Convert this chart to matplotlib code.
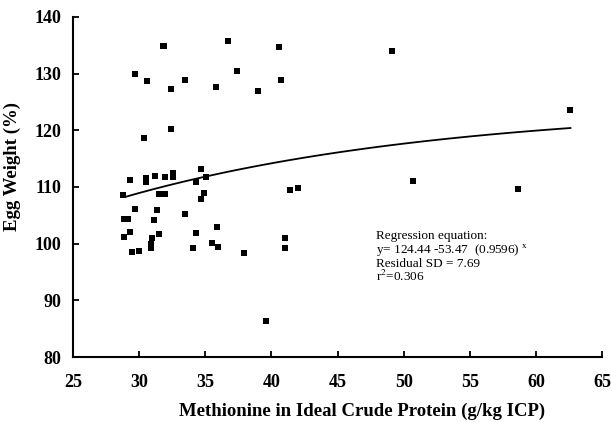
import numpy as np
import matplotlib
matplotlib.use("Agg")
import matplotlib.pyplot as plt

matplotlib.rcParams.update({'font.family': 'Liberation Serif', 'mathtext.fontset': 'stix'})

# methionine (g/kg ICP) vs egg weight (%)
methionine = [31.8, 36.7, 29.7, 30.6, 32.4, 33.5, 35.8, 37.4, 39.0, 31.9,
              30.4, 32.4, 40.6, 40.75, 49.1, 50.7, 41.4, 42.0, 58.6, 62.6,
              29.3, 30.5, 30.5, 31.2, 32.0, 32.6, 32.6, 34.7, 34.3, 35.1,
              28.8, 31.5, 32.0, 34.9, 34.7, 29.7, 31.35, 28.9, 29.2, 31.1,
              33.5, 29.3, 34.3, 35.9, 28.9, 31.0, 31.5, 30.9, 30.9, 29.5,
              30.0, 34.1, 35.5, 36.0, 37.9, 41.0, 41.05, 39.6]
egg_weight = [134.9, 135.8, 129.9, 128.7, 127.3, 128.9, 127.6, 130.4, 127.0, 134.9,
              118.6, 120.2, 134.7, 128.8, 133.9, 111.1, 109.4, 109.8, 109.6, 123.5,
              111.2, 111.5, 110.8, 112.0, 111.7, 112.5, 111.8, 113.2, 110.8, 111.7,
              108.6, 108.8, 108.8, 108.9, 107.9, 106.1, 106.0, 104.4, 104.4, 104.2,
              105.2, 102.1, 101.9, 102.9, 101.2, 101.0, 101.7, 99.9, 99.3, 98.6,
              98.7, 99.3, 100.2, 99.4, 98.3, 101.0, 99.3, 86.4]

# fitted curve y = a - b * r^x
a, b, r = 124.44, 53.47, 0.9596
xfit = np.linspace(29, 62.6, 100)
yfit = a - b * r ** xfit

fig = plt.figure(figsize=(6.12, 4.22), dpi=100)
ax = fig.add_axes([0.119, 0.154, 0.865, 0.806])

ax.scatter(methionine, egg_weight, marker='s', s=13, color='black', linewidths=0)
ax.plot(xfit, yfit, color='black', linewidth=1.3)

ax.set_xlim(25, 65)
ax.set_ylim(80, 140)
ax.set_xticks(np.arange(25, 66, 5))
ax.set_yticks(np.arange(80, 141, 10))
for s in ['top', 'right']:
    ax.spines[s].set_visible(False)
for s in ['left', 'bottom']:
    ax.spines[s].set_linewidth(1.5)
ax.tick_params(direction='in', length=4, width=1.3)
ax.tick_params(axis='x', pad=12)
ax.tick_params(axis='y', pad=8)
for lab in ax.get_xticklabels() + ax.get_yticklabels():
    lab.set_fontweight('bold')
    lab.set_fontsize(13)

ax.set_xlabel('Methionine in Ideal Crude Protein (g/kg ICP)', fontsize=13.5,
              fontweight='bold', labelpad=9)
ax.xaxis.set_label_coords(0.546, -0.135)
ax.set_ylabel('Egg Weight (%)', fontsize=13.5, fontweight='bold')
ax.yaxis.set_label_coords(-0.098, 0.56)

# regression box, one line per text, baseline aligned
lines = ['Regression equation:',
         'y= 124.44 -53.47  (0.9596) $^{\\mathrm{x}}$',
         'Residual SD = 7.69',
         'r$^{2}$=0.306']
for i, t in enumerate(lines):
    ax.text(0.573, 0.347 - i * 0.041, t, transform=ax.transAxes,
            fontsize=9.5, va='baseline')

fig.savefig('out.png', dpi=100)
